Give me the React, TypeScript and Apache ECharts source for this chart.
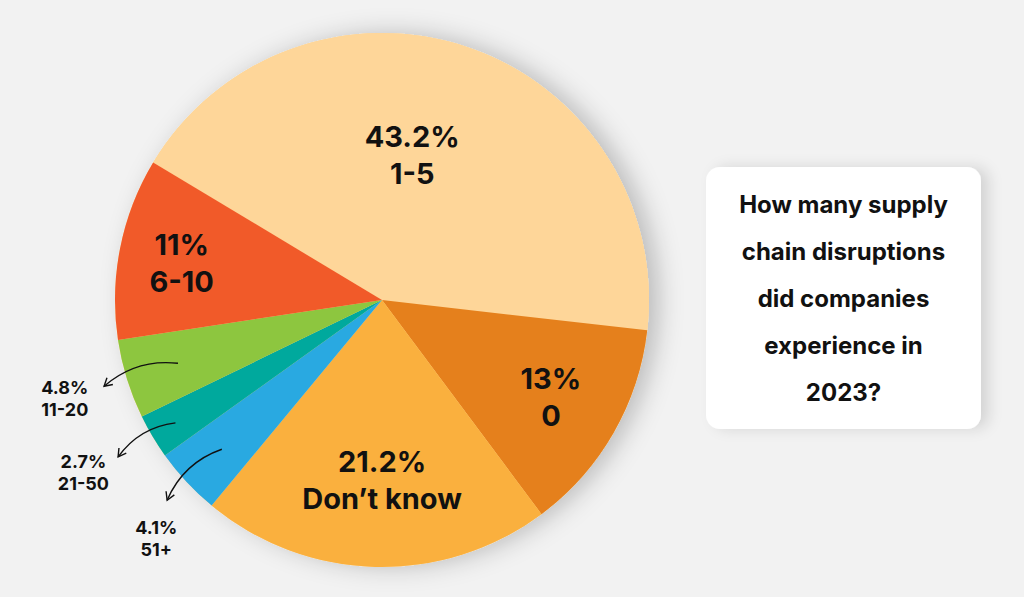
import React, { useRef, useEffect } from 'react';
import * as echarts from 'echarts';

// slices in clockwise order, starting at the 1-5 slice
const categories = ['1-5', '0', 'Don’t know', '51+', '21-50', '11-20', '6-10'];
const shares = [43.2, 13, 21.2, 4.1, 2.7, 4.8, 11];
const colors = ['#FED699', '#E5801C', '#FAB03E', '#29A9E1', '#00A99D', '#8DC63F', '#F15A29'];
const outside = [false, false, false, true, true, true, false];

// label placement: distance from centre (share of radius) and angle shift (deg)
const labelRadius = [0.555, 0.73, 0.674, 1.23, 1.292, 1.244, 0.763];
const labelShift = [7, 0, 1.5, 3.6, -0.7, 0, 0.7];
const arrowFrom = [0, 0, 0, 0.82, 0.9, 0.8, 0];
const arrowTo = [0, 0, 0, 1.1, 1.15, 1.09, 0];

const question = 'How many supply\nchain disruptions\ndid companies\nexperience in\n2023?';

const CX = 382;
const CY = 300;
const R = 267;
const START = 149;
const FONT = 'Inter, "Noto Sans", sans-serif';

const midAngles = (() => {
  const total = shares.reduce((a, b) => a + b, 0);
  let a = START;
  return shares.map((v) => {
    const span = (v / total) * 360;
    const m = a - span / 2;
    a -= span;
    return m;
  });
})();

const polar = (ratio: number, deg: number) => {
  const rad = (deg * Math.PI) / 180;
  return [CX + ratio * R * Math.cos(rad), CY - ratio * R * Math.sin(rad)];
};

const arrows = () => {
  const out: any[] = [];
  shares.forEach((_, i) => {
    if (!outside[i]) return;
    const [x1, y1] = polar(arrowFrom[i], midAngles[i]);
    const [x2, y2] = polar(arrowTo[i], midAngles[i]);
    const vx = x2 - x1;
    const vy = y2 - y1;
    const cpx = (x1 + x2) / 2 - vy * 0.22;
    const cpy = (y1 + y2) / 2 + vx * 0.22;
    const tx = x2 - cpx;
    const ty = y2 - cpy;
    const len = Math.hypot(tx, ty);
    const ux = tx / len;
    const uy = ty / len;
    const head = (sign: number) => {
      const t = (sign * 30 * Math.PI) / 180;
      const rx = ux * Math.cos(t) - uy * Math.sin(t);
      const ry = ux * Math.sin(t) + uy * Math.cos(t);
      return [x2 - rx * 9, y2 - ry * 9];
    };
    out.push({
      type: 'bezierCurve',
      silent: true,
      z: 100,
      shape: { x1, y1, x2, y2, cpx1: cpx, cpy1: cpy },
      style: { stroke: '#111', lineWidth: 1.4, fill: 'none' },
    });
    out.push({
      type: 'polyline',
      silent: true,
      z: 100,
      shape: { points: [head(1), [x2, y2], head(-1)] },
      style: { stroke: '#111', lineWidth: 1.4, fill: 'none' },
    });
  });
  return out;
};

const App: React.FC = () => {
  const chartRef = useRef<HTMLDivElement>(null);

  useEffect(() => {
    if (!chartRef.current) return;
    const chart = echarts.init(chartRef.current, null, { renderer: 'svg' });

    const option: echarts.EChartsOption = {
      animation: false,
      backgroundColor: '#F2F2F2',
      series: [
        {
          // backdrop that carries the drop shadow
          type: 'pie',
          silent: true,
          center: [CX, CY],
          radius: R,
          label: { show: false },
          labelLine: { show: false },
          itemStyle: {
            color: '#FED699',
            shadowBlur: 24,
            shadowOffsetX: 10,
            shadowColor: 'rgba(0,0,0,0.22)',
          },
          data: [{ value: 1, name: 'backdrop' }],
        },
        {
          type: 'pie',
          center: [CX, CY],
          radius: R,
          startAngle: START,
          clockwise: true,
          avoidLabelOverlap: false,
          labelLine: { show: false },
          itemStyle: { borderWidth: 0 },
          label: {
            show: true,
            position: 'inside',
            color: '#111',
            fontFamily: FONT,
            fontWeight: 700,
            align: 'center',
            formatter: (p: any) => `${p.value}%\n${p.name}`,
          },
          labelLayout: (p: any) => {
            const i = p.dataIndex;
            const [x, y] = polar(labelRadius[i], midAngles[i] + labelShift[i]);
            return { x, y, align: 'center', verticalAlign: 'middle' };
          },
          data: categories.map((name, i) => ({
            name,
            value: shares[i],
            itemStyle: { color: colors[i] },
            label: outside[i]
              ? { fontSize: 18, lineHeight: 22 }
              : { fontSize: 29, lineHeight: 37 },
          })),
        },
      ],
      graphic: [
        {
          type: 'rect',
          silent: true,
          shape: { x: 706, y: 167, width: 275, height: 262, r: 14 },
          style: {
            fill: '#fff',
            shadowBlur: 14,
            shadowOffsetX: 8,
            shadowOffsetY: 0,
            shadowColor: 'rgba(0,0,0,0.12)',
          },
        },
        {
          type: 'text',
          silent: true,
          x: 843.5,
          y: 298,
          style: {
            text: question,
            fill: '#111',
            fontFamily: FONT,
            fontWeight: 700,
            fontSize: 24,
            lineHeight: 47,
            align: 'center',
            verticalAlign: 'middle',
          },
        },
        ...arrows(),
      ],
    };

    chart.setOption(option);
    return () => {
      chart.dispose();
    };
  }, []);

  return (
    <div
      ref={chartRef}
      style={{ position: 'absolute', left: 0, top: 0, width: '1024px', height: '597px' }}
    />
  );
};

export default App;
